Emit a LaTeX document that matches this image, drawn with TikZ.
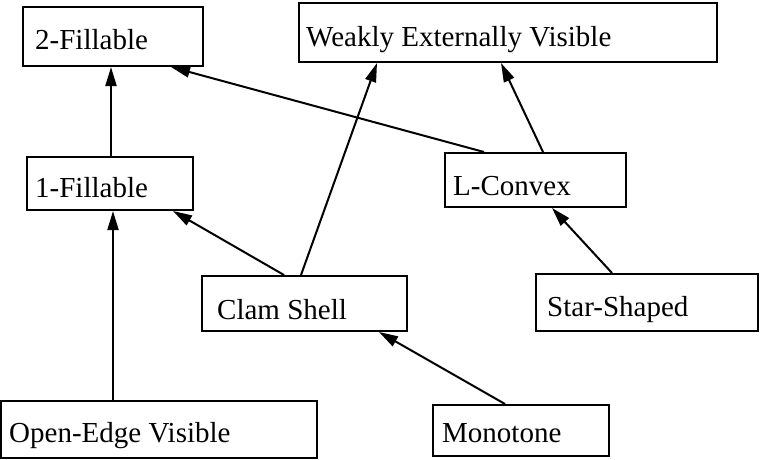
\documentclass[tikz,border=0pt]{standalone}
\usepackage{fontspec}
\setmainfont{Liberation Serif}
\usetikzlibrary{calc,arrows.meta}

\tikzset{
  box/.style={draw=black, line width=2pt, rectangle, inner sep=0pt},
  lbl/.style={anchor=base west, inner sep=0pt, font=\fontsize{29}{32}\selectfont},
  link/.style={line width=2pt, -{Triangle[length=19pt,width=11pt]}}
}

% place a framed box by its corners (x1,y1) (x2,y2)
\newcommand{\classbox}[5]{%
  \node[box, minimum width={#4-#2}, minimum height={#5-#3}] (#1)
    at ({(#2+#4)/2},{(#3+#5)/2}) {};}

\begin{document}
\begin{tikzpicture}[x=1pt, y=-1pt]
\useasboundingbox (0,0) rectangle (760,460);

\classbox{tf}{23}{7}{203}{66}
\classbox{wev}{299}{3}{717}{62}
\classbox{of}{27}{157}{193}{210}
\classbox{lc}{445}{153}{626}{207}
\classbox{cs}{202}{276}{407}{331}
\classbox{ss}{536}{274}{758}{331}
\classbox{oev}{1}{401}{317}{458}
\classbox{mono}{433}{405}{609}{456}

\node[lbl] (tf-t)   at (35,50)   {2-Fillable};
\node[lbl] (wev-t)  at (306,47)  {Weakly Externally Visible};
\node[lbl] (of-t)   at (35,197)  {1-Fillable};
\node[lbl] (lc-t)   at (453,195) {L-Convex};
\node[lbl] (cs-t)   at (217,319) {Clam Shell};
\node[lbl] (ss-t)   at (547,316) {Star-Shaped};
\node[lbl] (oev-t)  at (9,442)   {Open-Edge Visible};
\node[lbl] (mono-t) at (442,442) {Monotone};

% inclusion arrows
\draw[link] ($(of.north west)+(85,0)$)   -- ($(tf.south west)+(89,0)$);
\draw[link] ($(lc.north west)+(40,0)$)   -- ($(tf.south west)+(149,0)$);
\draw[link] ($(lc.north west)+(99,0)$)   -- ($(wev.south west)+(203,0)$);
\draw[link] ($(cs.north west)+(100,0)$)  -- ($(wev.south west)+(79,0)$);
\draw[link] ($(cs.north west)+(83,0)$)   -- ($(of.south west)+(147,0)$);
\draw[link] ($(oev.north west)+(113,0)$) -- ($(of.south west)+(87,0)$);
\draw[link] ($(mono.north west)+(73,0)$) -- ($(cs.south west)+(178,0)$);
\draw[link] ($(ss.north west)+(77,0)$)   -- ($(lc.south west)+(108,0)$);
\end{tikzpicture}
\end{document}
